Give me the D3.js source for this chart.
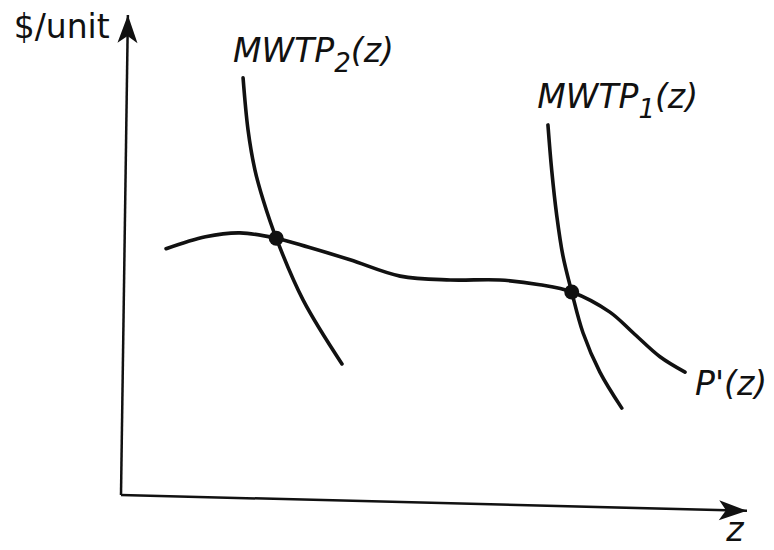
<!DOCTYPE html>
<html>
<head>
<meta charset="utf-8">
<script src="https://cdn.jsdelivr.net/npm/d3@7"></script>
<style>
  body { margin: 0; background: #fff; }
  .lbl { font-family: 'DejaVu Sans', sans-serif; font-size: 33px; fill: #111; }
  .ital { font-style: italic; }
</style>
</head>
<body>
<div id="chart"></div>
<script>
// values, in chart units (z: 0-10, $/unit: 0-10)
let pricePts = [[0.72,5.13],[1.35,5.38],[1.90,5.46],[2.48,5.35],[3.00,5.16],[3.66,4.90],[4.46,4.56],
                [5.26,4.48],[6.05,4.48],[6.69,4.38],[7.20,4.23],[7.81,3.81],[8.18,3.38],[8.61,2.88],[9.01,2.56]];
let mwtp2Pts = [[1.95,8.69],[2.03,7.60],[2.14,6.77],[2.27,6.15],[2.48,5.35],[2.91,4.06],[3.53,2.73]];
let mwtp1Pts = [[6.82,7.71],[6.88,6.77],[6.96,5.83],[7.06,4.98],[7.20,4.23],[7.38,3.38],[7.65,2.56],[8.00,1.81]];
let crossings = [[2.48,5.35],[7.20,4.23]];
let axisEnds = {origin: [0,0], x: [10,-0.33], y: [0.11,10]};
let labels = [
    {text: '$/unit', at: [-0.18,9.52], anchor: 'end', italic: false},
    {text: 'MWTP', sub: '2', tail: '(z)', at: [1.79,9.02], anchor: 'start', italic: true},
    {text: 'MWTP', sub: '1', tail: '(z)', at: [6.65,8.06], anchor: 'start', italic: true},
    {text: "P'(z)", at: [9.17,2.08], anchor: 'start', italic: true},
    {text: 'z', at: [9.67,-0.96], anchor: 'start', italic: true}
];

let width = 774, height = 550;
let svg = d3.select('#chart').append('svg')
    .attr('width', width)
    .attr('height', height);
let x = d3.scaleLinear().domain([0,10]).range([121,747]);
let y = d3.scaleLinear().domain([0,10]).range([495,15]);

let defs = svg.append('defs');
defs.append('marker') // notched arrow head
    .attr('id', 'arrow')
    .attr('viewBox', '-30 -11 32 22')
    .attr('refX', 0).attr('refY', 0)
    .attr('markerWidth', 32).attr('markerHeight', 22)
    .attr('markerUnits', 'userSpaceOnUse')
    .attr('orient', 'auto')
    .append('path')
    .attr('d', 'M 0 0 L -28 -10 L -21 0 L -28 10 Z')
    .attr('fill', '#111');

// axes
svg.append('line')
    .attr('x1', x(axisEnds.origin[0])).attr('y1', y(axisEnds.origin[1]))
    .attr('x2', x(axisEnds.x[0])).attr('y2', y(axisEnds.x[1]))
    .attr('stroke', '#111').attr('stroke-width', 2.5)
    .attr('marker-end', 'url(#arrow)');
svg.append('line')
    .attr('x1', x(axisEnds.origin[0])).attr('y1', y(axisEnds.origin[1]))
    .attr('x2', x(axisEnds.y[0])).attr('y2', y(axisEnds.y[1]))
    .attr('stroke', '#111').attr('stroke-width', 2.5)
    .attr('marker-end', 'url(#arrow)');

let curve = d3.line()
    .x(function(d) { return x(d[0]); })
    .y(function(d) { return y(d[1]); })
    .curve(d3.curveCatmullRom.alpha(0.5));

[pricePts, mwtp2Pts, mwtp1Pts].forEach(function(pts) {
    svg.append('path').datum(pts)
        .attr('fill', 'none')
        .attr('stroke', '#111')
        .attr('stroke-width', 3.6)
        .attr('stroke-linecap', 'round')
        .attr('d', curve);
});

svg.selectAll('circle.cross') // intersection dots
    .data(crossings).enter().append('circle')
    .attr('class', 'cross')
    .attr('cx', function(d) { return x(d[0]); })
    .attr('cy', function(d) { return y(d[1]); })
    .attr('r', 7.5)
    .attr('fill', '#111');

labels.forEach(function(l) {
    let t = svg.append('text')
        .attr('class', 'lbl' + (l.italic ? ' ital' : ''))
        .attr('x', x(l.at[0]))
        .attr('y', y(l.at[1]))
        .attr('text-anchor', l.anchor);
    t.append('tspan').text(l.text);
    if (l.sub) {
        t.append('tspan').attr('dy', 10).attr('font-size', 26).text(l.sub);
        t.append('tspan').attr('dy', -10).text(l.tail);
    }
});
</script>
</body>
</html>
